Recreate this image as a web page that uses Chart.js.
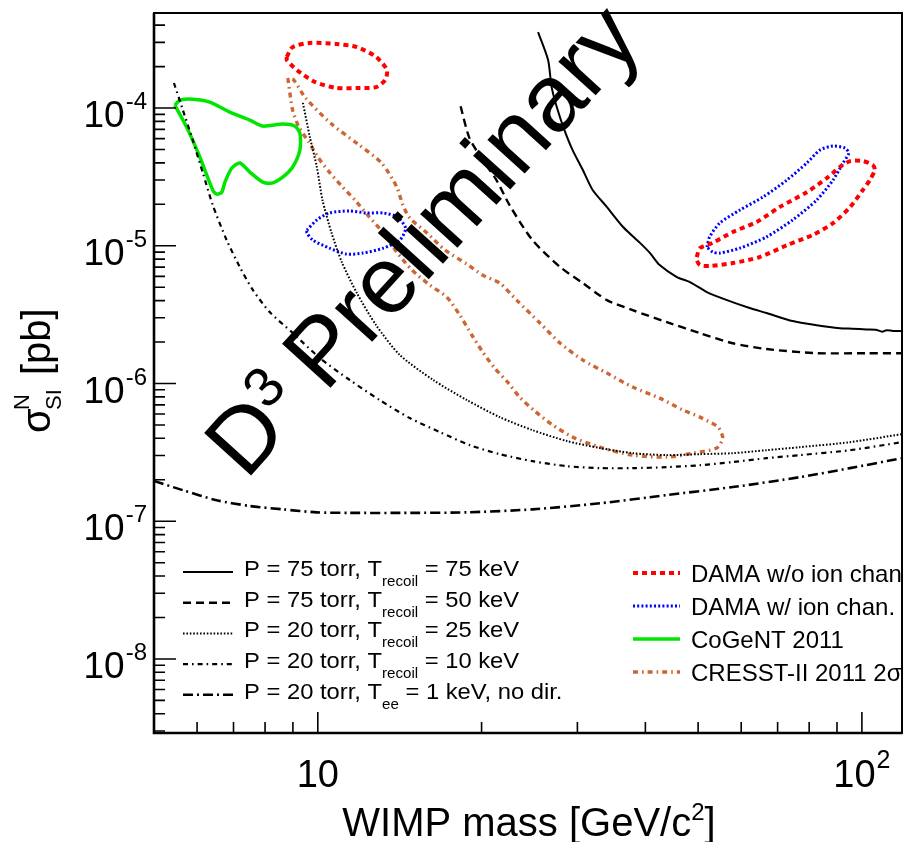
<!DOCTYPE html>
<html>
<head>
<meta charset="utf-8">
<script src="https://cdn.jsdelivr.net/npm/chart.js@4.4.0/dist/chart.umd.min.js"></script>
<style>
  body { margin: 0; background: #fff; }
  #wrap { width: 906px; height: 842px; position: relative; }
</style>
</head>
<body>
<div id="wrap"><canvas id="canvas"></canvas></div>
<script>
// WIMP mass [GeV/c^2] and sigma [pb]

// P = 75 torr, T_recoil = 75 keV
var m75t75 = [25.4, 26.5, 26.9, 27.6, 28.4, 29.4, 30.7, 32.0, 34.0, 36.4, 39.1, 40.8, 42.5, 45.7, 48.3, 51.9, 56.5, 62.2, 66.8, 74.6, 82.6, 91.1, 96, 102, 106, 109, 111, 114, 118.5];
var s75t75 = [3.56e-4, 2.23e-4, 1.42e-4, 9.67e-5, 6.92e-5, 4.95e-5, 3.55e-5, 2.54e-5, 1.91e-5, 1.37e-5, 1.05e-5, 8.85e-6, 7.24e-6, 5.93e-6, 5.45e-6, 4.61e-6, 4.03e-6, 3.53e-6, 3.25e-6, 2.84e-6, 2.65e-6, 2.52e-6, 2.50e-6, 2.47e-6, 2.46e-6, 2.38e-6, 2.44e-6, 2.41e-6, 2.40e-6];

// P = 75 torr, T_recoil = 50 keV
var m75t50 = [18.3, 19.0, 20.1, 21.3, 22.5, 24.8, 27.9, 30.7, 34.0, 37.9, 43.8, 50.4, 57.9, 66.8, 82.6, 102, 118.5];
var s75t50 = [1.03e-4, 6.05e-5, 4.19e-5, 3.0e-5, 1.98e-5, 1.10e-5, 7.0e-6, 5.36e-6, 4.03e-6, 3.41e-6, 2.79e-6, 2.32e-6, 1.96e-6, 1.78e-6, 1.66e-6, 1.66e-6, 1.66e-6];

// P = 20 torr, T_recoil = 25 keV
var m20t25 = [9.39, 9.67, 9.96, 10.2, 10.6, 11.07, 11.8, 12.8, 14.15, 16.3, 18.8, 21.6, 24.8, 28.7, 33.0, 37.9, 43.8, 50.4, 57.9, 66.8, 76.9, 95.1, 118.5];
var s20t25 = [1.09e-4, 6.16e-5, 3.73e-5, 2.15e-5, 1.24e-5, 7.62e-6, 4.53e-6, 2.65e-6, 1.61e-6, 1.06e-6, 7.58e-7, 5.70e-7, 4.59e-7, 3.82e-7, 3.40e-7, 3.12e-7, 3.02e-7, 3.07e-7, 3.12e-7, 3.28e-7, 3.45e-7, 3.75e-7, 4.29e-7];

// P = 20 torr, T_recoil = 10 keV
var m20t10 = [5.44, 5.65, 5.89, 6.15, 6.41, 6.80, 7.19, 7.60, 8.16, 8.96, 10.09, 11.45, 13.0, 14.76, 16.76, 19.03, 21.6, 24.8, 28.7, 33.0, 37.9, 43.8, 50.4, 57.9, 66.8, 76.9, 95.1, 118.5];
var s20t10 = [1.52e-4, 9.67e-5, 5.86e-5, 3.37e-5, 1.98e-5, 1.10e-5, 7.0e-6, 4.77e-6, 3.30e-6, 2.36e-6, 1.53e-6, 1.06e-6, 7.58e-7, 5.61e-7, 4.44e-7, 3.57e-7, 3.07e-7, 2.73e-7, 2.51e-7, 2.43e-7, 2.43e-7, 2.47e-7, 2.55e-7, 2.69e-7, 2.87e-7, 3.02e-7, 3.28e-7, 3.75e-7];

// P = 20 torr, T_ee = 1 keV, no dir.
var m20ee1 = [5.0, 5.65, 6.52, 7.50, 8.62, 9.96, 11.45, 14.8, 18.8, 24.8, 33.0, 43.8, 57.9, 76.9, 95.1, 118.5];
var s20ee1 = [1.96e-7, 1.68e-7, 1.42e-7, 1.29e-7, 1.22e-7, 1.16e-7, 1.15e-7, 1.15e-7, 1.16e-7, 1.22e-7, 1.35e-7, 1.55e-7, 1.77e-7, 2.09e-7, 2.43e-7, 2.87e-7];

// DAMA w/o ion channeling (two islands)
var damaLowMass = [8.77, 8.99, 9.67, 10.8, 11.8, 12.8, 13.4, 13.3, 12.8, 11.95, 10.8, 9.87, 9.15, 8.77, 8.77];
var damaLowSigma = [2.35e-4, 2.77e-4, 2.97e-4, 2.92e-4, 2.77e-4, 2.35e-4, 1.89e-4, 1.60e-4, 1.42e-4, 1.40e-4, 1.40e-4, 1.55e-4, 1.89e-4, 2.23e-4, 2.35e-4];
var damaHighMass = [49.7, 50.4, 53.2, 57.9, 64.1, 70.6, 79.2, 86.2, 91.1, 95.1, 100.4, 104.7, 105.6, 103.4, 100.4, 95.1, 88.5, 81.3, 72.8, 64.9, 57.9, 52.5, 50.4, 49.7, 49.7];
var damaHighSigma = [8.28e-6, 9.62e-6, 1.05e-5, 1.26e-5, 1.49e-5, 1.91e-5, 2.45e-5, 3.10e-5, 3.73e-5, 4.12e-5, 4.12e-5, 3.86e-5, 3.55e-5, 3.00e-5, 2.54e-5, 1.91e-5, 1.46e-5, 1.20e-5, 1.01e-5, 8.28e-6, 7.49e-6, 7.13e-6, 7.24e-6, 7.87e-6, 8.28e-6];

// DAMA w/ ion channeling
var damaIonLowMass = [9.55, 9.96, 10.5, 11.45, 12.3, 13.2, 14.0, 14.5, 14.15, 13.2, 12.1, 11.3, 10.5, 9.79, 9.55, 9.55];
var damaIonLowSigma = [1.30e-5, 1.54e-5, 1.73e-5, 1.79e-5, 1.73e-5, 1.73e-5, 1.62e-5, 1.34e-5, 1.10e-5, 9.62e-6, 8.85e-6, 8.70e-6, 9.62e-6, 1.10e-5, 1.24e-5, 1.30e-5];
var damaIonHighMass = [51.9, 52.5, 54.8, 59.7, 65.8, 72.8, 79.2, 83.7, 88.5, 93.1, 94.6, 92.3, 88.5, 82.6, 74.6, 66.8, 59.7, 54.8, 53.2, 51.9];
var damaIonHighSigma = [9.78e-6, 1.16e-5, 1.46e-5, 1.82e-5, 2.26e-5, 3.0e-5, 3.99e-5, 4.95e-5, 5.30e-5, 5.12e-5, 4.71e-5, 3.99e-5, 3.0e-5, 2.15e-5, 1.54e-5, 1.16e-5, 9.62e-6, 8.85e-6, 9.0e-6, 9.78e-6];

// CoGeNT 2011
var cogentMass = [5.46, 5.58, 5.89, 6.33, 6.89, 7.50, 7.92, 8.62, 9.07, 9.27, 9.27, 8.99, 8.62, 8.23, 7.92, 7.50, 7.19, 6.95, 6.75, 6.66, 6.52, 6.41, 6.07, 5.74, 5.46];
var cogentSigma = [1.05e-4, 1.14e-4, 1.16e-4, 1.105e-4, 9.35e-5, 8.18e-5, 7.40e-5, 7.65e-5, 7.40e-5, 6.58e-5, 4.95e-5, 3.73e-5, 3.15e-5, 2.85e-5, 2.90e-5, 3.43e-5, 3.99e-5, 3.67e-5, 2.90e-5, 2.45e-5, 2.37e-5, 2.54e-5, 4.41e-5, 7.28e-5, 1.05e-4];

// CRESST-II 2011 2 sigma
var cresstMass = [8.81, 8.88, 8.99, 9.23, 9.63, 10.0, 10.5, 11.07, 11.7, 12.4, 13.2, 13.97, 14.9, 16.07, 17.26, 18.24, 19.19, 20.1, 21.15, 22.35, 23.5, 25.06, 26.9, 29.4, 33.0, 37.9, 43.8, 48.9, 54.1, 55.5, 54.4, 50.4, 46.9, 42.5, 37.9, 34.0, 30.7, 27.9, 25.6, 23.2, 21.6, 20.1, 18.8, 17.13, 15.87, 14.76, 14.33, 13.97, 13.1, 11.85, 10.6, 9.50, 9.03, 8.81];
var cresstSigma = [1.65e-4, 1.31e-4, 9.67e-5, 7.28e-5, 5.66e-5, 4.41e-5, 3.43e-5, 2.71e-5, 2.15e-5, 1.64e-5, 1.24e-5, 9.0e-6, 6.66e-6, 5.18e-6, 4.24e-6, 3.14e-6, 2.25e-6, 1.69e-6, 1.29e-6, 1.02e-6, 7.96e-7, 6.30e-7, 5.07e-7, 4.08e-7, 3.45e-7, 3.02e-7, 2.92e-7, 3.12e-7, 3.40e-7, 4.01e-7, 4.82e-7, 5.70e-7, 6.41e-7, 7.83e-7, 9.42e-7, 1.19e-6, 1.48e-6, 1.96e-6, 2.75e-6, 4.03e-6, 5.36e-6, 6.12e-6, 7.36e-6, 9.31e-6, 1.24e-5, 1.59e-5, 1.98e-5, 2.67e-5, 3.99e-5, 5.48e-5, 7.65e-5, 1.18e-4, 1.60e-4, 1.65e-4];

// axes and labels
var massRange = [5, 118.5];
var sigmaRange = [2.9e-9, 4.9e-4];
var yTickPowers = ['-8', '-7', '-6', '-5', '-4'];
var xTickValues = [10, 100];
var xTickPowers = ['', '2'];
var limitLabels = [
    ['P = 75 torr, T', 'recoil', ' = 75 keV'],
    ['P = 75 torr, T', 'recoil', ' = 50 keV'],
    ['P = 20 torr, T', 'recoil', ' = 25 keV'],
    ['P = 20 torr, T', 'recoil', ' = 10 keV'],
    ['P = 20 torr, T', 'ee', ' = 1 keV, no dir.']
];
var signalLabels = ['DAMA w/o ion chan', 'DAMA w/ ion chan.', 'CoGeNT 2011', 'CRESST-II 2011 2\u03c3'];
var xTitle = ['WIMP mass [GeV/c', '2', ']'];
var yTitle = ['\u03c3', 'N', 'SI', '[pb]'];
var watermark = ['D', '3', 'Preliminary'];

var FONT = "'Liberation Sans', Arial, Helvetica, sans-serif";

function pts(xs, ys) {
    return xs.map(function(x, i) { return {x: x, y: ys[i]}; });
}

function islands(a, b) {
    // a gap point between two closed contours
    return a.concat([{x: null, y: null}], b);
}

function curve(data, color, width, dash) {
    return {
        data: data,
        showLine: true,
        borderColor: color,
        borderWidth: width,
        borderDash: dash,
        pointRadius: 0,
        tension: 0.25,
        fill: false
    };
}

var limitSets = [
    curve(pts(m75t75, s75t75), '#000', 2, []),
    curve(pts(m75t50, s75t50), '#000', 2.4, [8, 5]),
    curve(pts(m20t25, s20t25), '#000', 2, [1.6, 1.8]),
    curve(pts(m20t10, s20t10), '#000', 2.2, [5, 4, 1.6, 4]),
    curve(pts(m20ee1, s20ee1), '#000', 2.6, [10, 4, 2, 4])
];
var signalSets = [
    curve(islands(pts(damaLowMass, damaLowSigma), pts(damaHighMass, damaHighSigma)), '#ff0000', 4, [5, 4]),
    curve(islands(pts(damaIonLowMass, damaIonLowSigma), pts(damaIonHighMass, damaIonHighSigma)), '#0000ff', 3, [2, 2.2]),
    curve(pts(cogentMass, cogentSigma), '#00e600', 3.5, []),
    curve(pts(cresstMass, cresstSigma), '#cc6633', 3.4, [5, 4, 1.6, 4])
];

function setFont(ctx, size) {
    ctx.font = size + 'px ' + FONT;
}

function drawPow(ctx, exp, x, y, size, supSize, rise, align) {
    setFont(ctx, size);
    var wb = ctx.measureText('10').width;
    setFont(ctx, supSize);
    var ws = exp ? ctx.measureText(exp).width + 1 : 0;
    var left = align == 'right' ? x - wb - ws : x - (wb + ws) / 2;
    setFont(ctx, size);
    ctx.fillText('10', left, y);
    if (exp) {
        setFont(ctx, supSize);
        ctx.fillText(exp, left + wb + 1, y - rise);
    }
}

function drawParts(ctx, parts, x, y, size, subSize, drop, stretch) {
    ctx.save();
    ctx.translate(x, y);
    ctx.scale(stretch, 1);
    var cx = 0;
    for (var i = 0; i < parts.length; i++) {
        if (i % 2 == 1) {
            setFont(ctx, subSize);
            ctx.fillText(parts[i], cx, drop);
        } else {
            setFont(ctx, size);
            ctx.fillText(parts[i], cx, 0);
        }
        cx += ctx.measureText(parts[i]).width;
    }
    ctx.restore();
}

function sample(ctx, ds, x1, x2, y) {
    ctx.save();
    ctx.strokeStyle = ds.borderColor;
    ctx.lineWidth = ds.borderWidth;
    ctx.setLineDash(ds.borderDash);
    ctx.beginPath();
    ctx.moveTo(x1, y);
    ctx.lineTo(x2, y);
    ctx.stroke();
    ctx.restore();
}

var decor = {
    id: 'decor',
    afterDatasetsDraw: function(chart) {
        var ctx = chart.ctx, a = chart.chartArea;
        var xs = chart.scales.x, ys = chart.scales.y;
        var i, d, m, v, p;
        ctx.save();
        ctx.fillStyle = '#000';
        ctx.strokeStyle = '#000';
        ctx.textAlign = 'left';
        ctx.textBaseline = 'alphabetic';

        // ticks, pointing inwards
        ctx.lineWidth = 1.6;
        ctx.beginPath();
        for (d = -9; d <= -3; d++) {
            for (m = 1; m <= 9; m++) {
                v = m * Math.pow(10, d);
                if (v < ys.min || v > ys.max) continue;
                p = ys.getPixelForValue(v);
                ctx.moveTo(a.left, p);
                ctx.lineTo(a.left + (m == 1 ? 22 : 11), p);
            }
        }
        for (d = 0; d <= 2; d++) {
            for (m = 1; m <= 9; m++) {
                v = m * Math.pow(10, d);
                if (v < xs.min || v > xs.max) continue;
                p = xs.getPixelForValue(v);
                ctx.moveTo(p, a.bottom);
                ctx.lineTo(p, a.bottom - (m == 1 ? 21 : 11));
            }
        }
        ctx.stroke();

        // frame
        ctx.lineWidth = 2;
        ctx.strokeRect(a.left, a.top, a.right - a.left, a.bottom - a.top);
        ctx.lineWidth = 2.6;
        ctx.beginPath();
        ctx.moveTo(a.left, a.top);
        ctx.lineTo(a.left, a.bottom);
        ctx.lineTo(a.right, a.bottom);
        ctx.stroke();

        // tick labels
        for (i = 0; i < yTickPowers.length; i++) {
            p = ys.getPixelForValue(Math.pow(10, Number(yTickPowers[i])));
            drawPow(ctx, yTickPowers[i], a.left - 7, p + 19, 37, 24, 18, 'right');
        }
        for (i = 0; i < xTickValues.length; i++) {
            p = xs.getPixelForValue(xTickValues[i]);
            drawPow(ctx, xTickPowers[i], p, a.bottom + 54, 38, 25, 19, 'center');
        }

        // axis titles
        setFont(ctx, 40);
        var w1 = ctx.measureText(xTitle[0]).width, w3 = ctx.measureText(xTitle[2]).width;
        setFont(ctx, 24);
        var w2 = ctx.measureText(xTitle[1]).width;
        var tx = 529 - (w1 + w2 + w3) / 2;
        setFont(ctx, 40);
        ctx.fillText(xTitle[0], tx, 836);
        setFont(ctx, 24);
        ctx.fillText(xTitle[1], tx + w1, 820);
        setFont(ctx, 40);
        ctx.fillText(xTitle[2], tx + w1 + w2, 836);

        ctx.save();
        ctx.translate(50, 433);
        ctx.rotate(-Math.PI / 2);
        setFont(ctx, 40);
        ctx.fillText(yTitle[0], 0, 0);
        setFont(ctx, 22);
        ctx.fillText(yTitle[1], 23, -21);
        ctx.fillText(yTitle[2], 23, 11);
        setFont(ctx, 40);
        ctx.fillText(yTitle[3], 58, 0);
        ctx.restore();

        // legends (clipped by the frame like the original)
        ctx.save();
        ctx.beginPath();
        ctx.rect(a.left, a.top, a.right - a.left, a.bottom - a.top);
        ctx.clip();
        for (i = 0; i < limitLabels.length; i++) {
            var ry = 572 + i * 30.7;
            sample(ctx, chart.data.datasets[i], 183, 233, ry);
            drawParts(ctx, limitLabels[i], 244, ry + 4, 22, 14, 10, 1.08);
        }
        for (i = 0; i < signalLabels.length; i++) {
            var sy = 573 + i * 33;
            sample(ctx, chart.data.datasets[limitLabels.length + i], 633, 680, sy);
            setFont(ctx, 24);
            ctx.fillText(signalLabels[i], 691, sy + 9);
        }
        ctx.restore();

        // watermark
        ctx.save();
        ctx.translate(246, 481);
        ctx.rotate(-47.8 * Math.PI / 180);
        setFont(ctx, 92);
        ctx.fillText(watermark[0], 0, 0);
        setFont(ctx, 56);
        ctx.fillText(watermark[1], 66, -31);
        setFont(ctx, 95);
        ctx.fillText(watermark[2], 118, 0);
        ctx.restore();

        ctx.restore();
    }
};

window.onload = function() {
    var ctx = document.getElementById('canvas').getContext('2d');
    window.myChart = new Chart(ctx, {
        type: 'scatter',
        data: { datasets: limitSets.concat(signalSets) },
        options: {
            responsive: true,
            maintainAspectRatio: false,
            animation: false,
            layout: { padding: { left: 154, right: 4, top: 13, bottom: 109 } },
            plugins: { legend: { display: false }, tooltip: { enabled: false } },
            scales: {
                x: { type: 'logarithmic', min: massRange[0], max: massRange[1], display: false },
                y: { type: 'logarithmic', min: sigmaRange[0], max: sigmaRange[1], display: false }
            }
        },
        plugins: [decor]
    });
};
</script>
</body>
</html>
